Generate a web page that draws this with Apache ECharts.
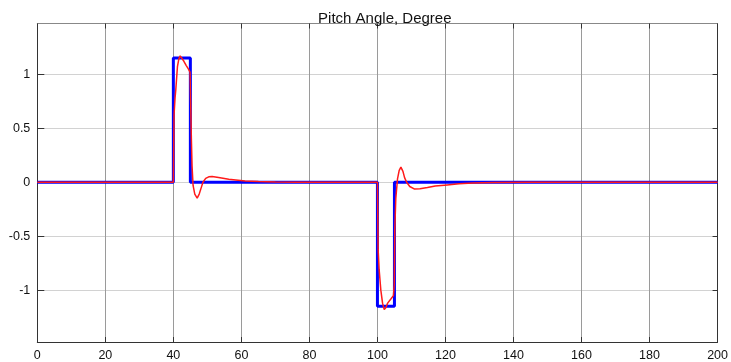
<!DOCTYPE html>
<html>
<head>
<meta charset="utf-8">
<title>Pitch Angle, Degree</title>
<script src="https://cdn.jsdelivr.net/npm/echarts@6/dist/echarts.min.js"></script>
<style>
  html, body { margin: 0; padding: 0; background: #fff; }
  #chart { width: 731px; height: 362px; }
</style>
</head>
<body>
<div id="chart"></div>
<script>
// Time axis (s) and value axis tick positions
var xTicks = [0, 20, 40, 60, 80, 100, 120, 140, 160, 180, 200];
var yTicks = [-1, -0.5, 0, 0.5, 1];

// Commanded pitch angle: two rectangular pulses [t, deg]
var commandT = [0, 40, 40, 45, 45, 100, 100, 105, 105, 200];
var commandV = [0, 0, 1.15, 1.15, 0, 0, -1.15, -1.15, 0, 0];

// Measured pitch angle response [t, deg]
var responseT = [
  0, 40, 40.2, 40.5, 40.7, 41.2, 41.6, 42.0, 42.5, 43.1, 43.8, 44.4, 44.9,
  45.1, 45.3, 45.5, 45.8, 46.3, 47.0, 47.6, 48.2, 48.7, 49.5, 50.4, 51.4,
  53.3, 56.3, 61.1, 65, 70, 76,
  100, 100.2, 100.5, 101.0, 101.5, 102.0, 102.5, 103.0, 103.5, 104.0, 104.7,
  104.95, 105.1, 105.4, 105.9, 106.4, 106.9, 107.5, 108.0, 108.6, 109.5, 110.8,
  112.5, 114.7, 117, 120.5, 124, 128, 134, 145, 200
];
var responseV = [
  0, 0, 0.62, 0.78, 0.85, 1.07, 1.14, 1.17, 1.16, 1.12, 1.08, 1.05, 1.02,
  0.72, 0.4, 0.15, -0.03, -0.11, -0.148, -0.11, -0.05, 0, 0.035, 0.05, 0.052,
  0.043, 0.028, 0.012, 0.006, 0.002, 0,
  0, -0.62, -0.81, -1.0, -1.12, -1.18, -1.16, -1.12, -1.105, -1.08, -1.05,
  -0.95, -0.44, -0.15, 0.03, 0.11, 0.14, 0.1, 0.04, 0, -0.04, -0.062,
  -0.06, -0.05, -0.035, -0.025, -0.015, -0.008, -0.002, 0, 0
];

function pairs(t, v) {
  return t.map(function (x, i) { return [x, v[i]]; });
}

var font = '"Liberation Sans", Arial, Helvetica, sans-serif';
var frame = '#333';

var chart = echarts.init(document.getElementById('chart'), null, { renderer: 'canvas' });
chart.setOption({
  animation: false,
  backgroundColor: '#fff',
  title: {
    text: 'Pitch Angle, Degree',
    left: 379.8,
    textAlign: 'center',
    top: 6,
    textStyle: { fontFamily: font, fontSize: 15, fontWeight: 'normal', color: '#111' }
  },
  grid: { left: 37.3, right: 8.7, top: 23.5, bottom: 20, containLabel: false },
  xAxis: [
    {
      type: 'value', min: 0, max: 200, interval: 20, position: 'bottom',
      axisLine: { show: true, onZero: false, lineStyle: { color: frame, width: 1 } },
      axisTick: { inside: true, length: 5, lineStyle: { color: frame } },
      axisLabel: { margin: 7, fontFamily: font, fontSize: 12.5, color: '#111',
                   customValues: xTicks },
      splitLine: { show: true, lineStyle: { color: '#9a9a9a', width: 1 } }
    },
    {
      type: 'value', min: 0, max: 200, interval: 20, position: 'top',
      axisLine: { show: true, onZero: false, lineStyle: { color: '#888', width: 1 } },
      axisTick: { inside: true, length: 5, lineStyle: { color: frame } },
      axisLabel: { show: false },
      splitLine: { show: false }
    }
  ],
  yAxis: [
    {
      type: 'value', min: -1.48, max: 1.47, position: 'left',
      axisLine: { show: true, onZero: false, lineStyle: { color: frame, width: 1 } },
      axisTick: { show: true, inside: true, length: 7, lineStyle: { color: frame },
                  customValues: yTicks },
      axisLabel: { margin: 7, fontFamily: font, fontSize: 12.5, color: '#111',
                   customValues: yTicks },
      splitLine: { show: true, lineStyle: { color: '#d2d2d2', width: 1 } }
    },
    {
      type: 'value', min: -1.48, max: 1.47, position: 'right',
      axisLine: { show: true, onZero: false, lineStyle: { color: frame, width: 1 } },
      axisTick: { show: true, inside: true, length: 5, lineStyle: { color: frame },
                  customValues: yTicks },
      axisLabel: { show: false },
      splitLine: { show: false }
    }
  ],
  series: [
    {
      name: 'Command', type: 'line', xAxisIndex: 0, yAxisIndex: 0,
      data: pairs(commandT, commandV), showSymbol: false, symbol: 'none',
      lineStyle: { color: '#0000ff', width: 3 }, z: 2
    },
    {
      name: 'Response', type: 'line', xAxisIndex: 0, yAxisIndex: 0,
      data: pairs(responseT, responseV), showSymbol: false, symbol: 'none',
      lineStyle: { color: '#ff1a1a', width: 1.5 }, z: 3
    }
  ]
});
</script>
</body>
</html>
